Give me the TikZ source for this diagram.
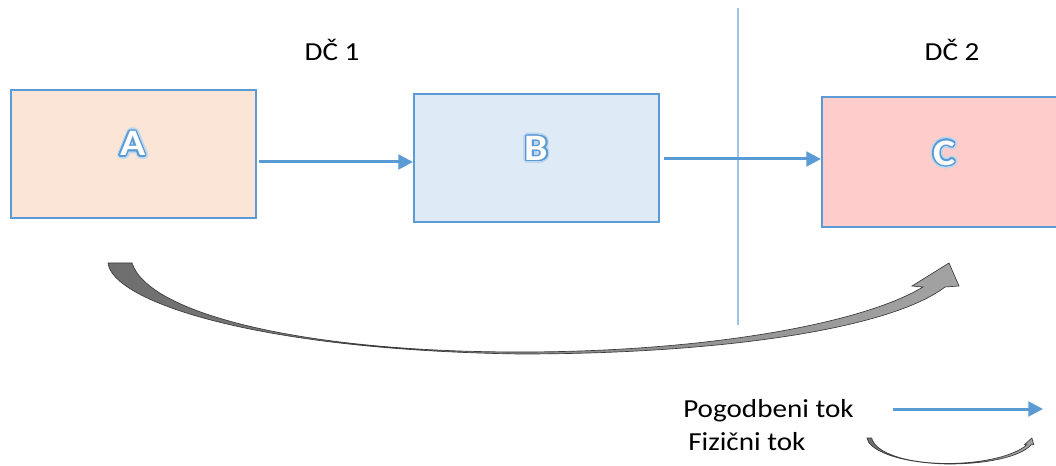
\documentclass[tikz,border=0pt]{standalone}
\usepackage{fontspec}
\setmainfont{Carlito}[FakeStretch=1.12]
\usepackage{contour}
\usetikzlibrary{arrows.meta}

\definecolor{edgeblue}{HTML}{5B9BD5}
\definecolor{glowblue}{HTML}{BDD7EE}
\definecolor{linkblue}{HTML}{5B9BD5}
\definecolor{splitblue}{HTML}{9DC3E6}
\definecolor{fillA}{HTML}{FBE5D6}
\definecolor{fillB}{HTML}{DEEBF7}
\definecolor{fillC}{HTML}{FFCCCC}
\definecolor{ribbonDark}{HTML}{6E6E6E}
\definecolor{ribbonLight}{HTML}{A3A3A3}
\definecolor{ribbonEdge}{HTML}{3A3A3A}

% white letter with a blue outline and a soft glow
\newcommand\wordart[1]{%
  \contourlength{2.4pt}\contour{glowblue}{\textcolor{glowblue}{#1}}%
  \llap{\contourlength{1.1pt}\contour{edgeblue}{\textcolor{white}{#1}}}}

\tikzset{
  unit/.style={draw=edgeblue, line width=1.5pt, minimum width=183.75pt,
    minimum height=96pt, inner sep=0pt},
  letter/.style={font=\fontsize{28}{30}\selectfont\bfseries, inner sep=0pt},
  caption/.style={font=\fontsize{19.5}{22}\selectfont, inner sep=0pt},
  flow/.style={draw=linkblue, line width=2.25pt,
    -{Triangle[length=11pt,width=11pt]}},
  divider/.style={draw=splitblue, line width=1pt},
  pics/fizarrow/.style={code={
    \path[draw=ribbonEdge, line width=0.5pt,
          left color=ribbonDark, right color=ribbonLight]
      (0,0) .. controls (4,37) and (142,87) .. (412,91)
            .. controls (612,91) and (782,66) .. (837,24)
      -- (851,23) -- (841,0) -- (804,23) -- (815,24)
            .. controls (752,62) and (592,89) .. (412,89)
            .. controls (192,89) and (40,50) .. (24,0)
      -- cycle;
  }}
}

\begin{document}
\begin{tikzpicture}[x=0.75pt, y=-0.75pt]
  \useasboundingbox (0,0) rectangle (1056,466);
  \clip (0,0) rectangle (1056,466);

  % section divider
  \coordinate (v1) at (738,8);
  \coordinate (v2) at (738,325);
  \draw[divider] (v1) -- (v2);

  % section titles
  \node[caption, anchor=base] (dc1) at (332,61) {DČ 1};
  \node[caption, anchor=base] (dc2) at (952,61) {DČ 2};

  % units
  \node[unit, fill=fillA,
        label={[letter, yshift=6.5pt]center:\wordart{A}}] (A) at (133,154) {};
  \node[unit, fill=fillB,
        label={[letter, yshift=6pt]center:\wordart{B}}] (B) at (536.5,158) {};
  \node[unit, fill=fillC, minimum height=97.5pt,
        label={[letter, yshift=5.5pt]center:\wordart{C}}] (C) at (944.5,162) {};

  % contractual flow
  \draw[flow] ([xshift=2pt,yshift=-6pt]A.east) -- ([yshift=-3pt]B.west);
  \draw[flow] ([xshift=3pt,yshift=-0.75pt]B.east) -- ([yshift=2.25pt]C.west);

  % physical flow
  \pic at (108,263) {fizarrow};

  % legend
  \node[caption, anchor=base west] (leg1) at (683,417) {Pogodbeni tok};
  \node[caption, anchor=base west] (leg2) at (688,450) {Fizični tok};
  \coordinate (l1s) at (893,409);
  \coordinate (l1e) at (1043,409);
  \draw[flow] (l1s) -- (l1e);
  \pic[xscale=0.196, yscale=0.286] at (867,438) {fizarrow};
\end{tikzpicture}
\end{document}
